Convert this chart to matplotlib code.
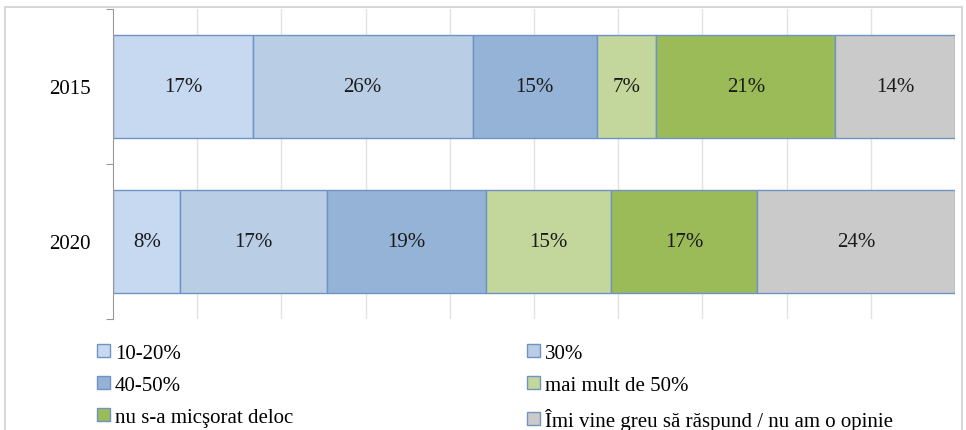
import matplotlib.pyplot as plt
import matplotlib.patches as mpatches
import numpy as np

# Datos
anios = ["2015", "2020"]
categorias = ["10-20%", "30%", "40-50%", "mai mult de 50%",
              "nu s-a micşorat deloc", "Îmi vine greu să răspund / nu am o opinie"]
valores_2015 = [16.6, 26.1, 14.8, 7.0, 21.3, 14.2]
valores_2020 = [8.0, 17.4, 18.9, 14.8, 17.4, 23.5]
colores = ["#c6d9f0", "#b9cde5", "#95b3d7", "#c3d69b", "#9bbb59", "#cacaca"]

plt.rcParams['font.family'] = ['Liberation Serif', 'DejaVu Serif']

fig = plt.figure(figsize=(9.66, 4.31), dpi=100)
ax = fig.add_axes([0.117, 0.2575, 0.8716, 0.7195])

# marco exterior
fig.patches.append(mpatches.Rectangle((5/966, -0.1), 957/966, 1.1 - 8/431, transform=fig.transFigure,
                                      fill=False, edgecolor="#d0d0d0", linewidth=1.2))

datos = np.array([valores_2015, valores_2020])
izq = np.zeros(len(anios))
handles = []
for j, cat in enumerate(categorias):
    b = ax.barh(np.arange(len(anios)), datos[:, j], left=izq, height=0.66,
                color=colores[j], edgecolor="#6f93c4", linewidth=1.0, label=cat)
    handles.append(b)
    for i in range(len(anios)):
        ax.text(izq[i] + datos[i, j] / 2, i, f"{datos[i, j]:.0f}%", ha='center', va='center',
                fontsize=15, color="#1a1a1a")
    izq += datos[:, j]

ax.set_xlim(0, 100)
ax.set_ylim(1.5, -0.5)
ax.set_xticks(np.arange(10, 100, 10))
ax.set_xticklabels([])
ax.tick_params(axis='x', length=0)
ax.grid(axis='x', color="#e2e2e2", linewidth=1)
ax.set_axisbelow(True)

ax.set_yticks([-0.5, 0.5, 1.5])
ax.set_yticklabels([])
ax.set_yticks([0, 1], minor=True)
ax.set_yticklabels(anios, minor=True, fontsize=15)
ax.tick_params(axis='y', which='minor', length=0, pad=16)
ax.tick_params(axis='y', which='major', length=5, color="#999999")

for s in ['top', 'right', 'bottom']:
    ax.spines[s].set_visible(False)
ax.spines['left'].set_color("#999999")

# leyenda en dos columnas
estilo = dict(loc='upper left', frameon=False, fontsize=15, handlelength=0.6, handleheight=0.6,
              handletextpad=0.25, labelspacing=0.62, borderpad=0, borderaxespad=0)
izq_idx = [0, 2, 4]
der_idx = [1, 3, 5]
fig.legend([handles[k] for k in izq_idx], [categorias[k] for k in izq_idx],
           bbox_to_anchor=(97/966, 1 - 345/431), **estilo)
fig.legend([handles[k] for k in der_idx], [categorias[k] for k in der_idx],
           bbox_to_anchor=(527/966, 1 - 345/431), **estilo)

plt.savefig("out.png", dpi=100)
